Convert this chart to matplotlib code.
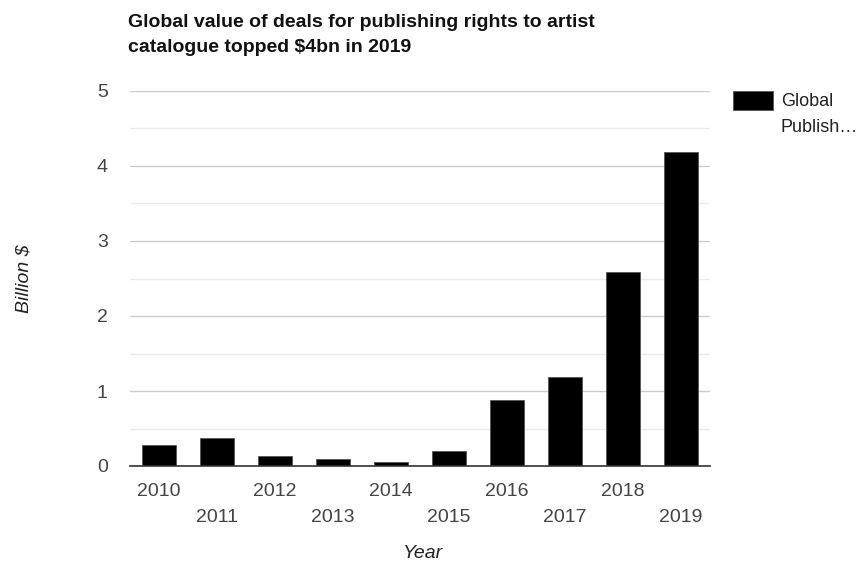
import numpy as np
import matplotlib.pyplot as plt
from matplotlib.patches import Rectangle
from matplotlib.ticker import MultipleLocator

plt.rcParams['font.family'] = ['Liberation Sans', 'DejaVu Sans']

# data
years = ['2010', '2011', '2012', '2013', '2014', '2015', '2016', '2017', '2018', '2019']
values = [0.28, 0.38, 0.13, 0.09, 0.05, 0.2, 0.88, 1.19, 2.59, 4.19]
series_name = ['Global', 'Publish\u2026']  # legend label, wrapped on two lines

fig = plt.figure(figsize=(8.67, 5.66), dpi=100)
ax = fig.add_axes([130 / 867, 100 / 566, 580 / 867, 375 / 566])

x = np.arange(len(years))
bars = ax.bar(x, values, width=0.59, color='black', edgecolor='#555555', linewidth=0.6, zorder=3)

ax.set_xlim(-0.5, len(years) - 0.5)
ax.set_ylim(0, 5)
ax.yaxis.set_major_locator(MultipleLocator(1))
ax.yaxis.set_minor_locator(MultipleLocator(0.5))
ax.grid(axis='y', which='major', color='#cccccc', linewidth=1, zorder=0)
ax.grid(axis='y', which='minor', color='#ebebeb', linewidth=1, zorder=0)

for s in ['top', 'right', 'left']:
    ax.spines[s].set_visible(False)
ax.spines['bottom'].set_color('#333333')
ax.spines['bottom'].set_linewidth(1.2)
ax.spines['bottom'].set_zorder(4)

# alternate the year labels on two rows
labels = [y if i % 2 == 0 else '\n' + y for i, y in enumerate(years)]
ax.set_xticks(x)
ax.set_xticklabels(labels)
for t in ax.get_xticklabels():
    t.set_linespacing(1.7)
ax.tick_params(axis='x', length=0, pad=12, labelsize=14, labelcolor='#444444')
ax.tick_params(axis='y', which='both', length=0, pad=16, labelsize=14, labelcolor='#444444')

fig.text(128 / 867, 1 - 35 / 566, 'Global value of deals for publishing rights to artist\ncatalogue topped $4bn in 2019',
         fontsize=14, fontweight='bold', color='#111111', ha='left', va='center', linespacing=1.55)
fig.text(24 / 867, 1 - 279 / 566, 'Billion $', rotation=90, style='italic', fontsize=14,
         color='#222222', ha='center', va='center')
fig.text(423 / 867, 1 - 553 / 566, 'Year', style='italic', fontsize=14,
         color='#222222', ha='center', va='center')

# second legend row carries only the wrapped rest of the label
blank = Rectangle((0, 0), 1, 1, alpha=0)
ax.legend([bars, blank], series_name, loc='upper left',
          bbox_to_anchor=(733 / 867, 1 - 91 / 566), bbox_transform=fig.transFigure,
          frameon=False, fontsize=13, handlelength=2.2, handleheight=1.2, handletextpad=0.45,
          labelspacing=0.35, borderpad=0, borderaxespad=0, labelcolor='#222222')

fig.savefig('out.png', dpi=100)
